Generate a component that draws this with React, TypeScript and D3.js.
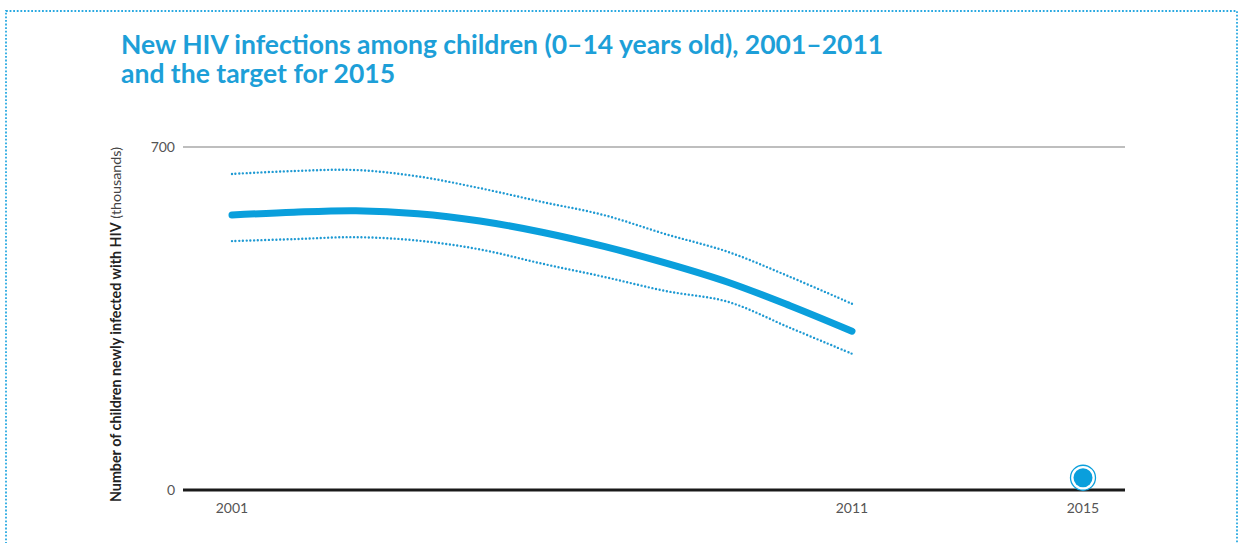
import React from "react";
import * as d3 from "d3";

const years = [2001, 2002, 2003, 2004, 2005, 2006, 2007, 2008, 2009, 2010, 2011];
const estimate = [561, 567, 570, 564, 549, 526, 497, 463, 424, 376, 324];
const upperBound = [645, 651, 653, 640, 616, 588, 561, 522, 486, 435, 380];
const lowerBound = [508, 512, 516, 509, 491, 462, 435, 406, 384, 331, 278];
const targetYear = 2015;
const targetValue = 25;
const yTicks = [0, 700];
const xTickLabels = [2001, 2011, 2015];

const BLUE = "#0a9fdc";
const DOT_BLUE = "#1f9ad3";

export default function App() {
  const W = 1239;
  const H = 543;
  const x = d3.scaleLinear().domain([2001, 2011, 2015]).range([232, 852, 1083]);
  const y = d3.scaleLinear().domain([0, 700]).range([490, 147]);
  const line = d3
    .line<number>()
    .x((_, i) => x(years[i]))
    .y((d) => y(d))
    .curve(d3.curveCatmullRom.alpha(0.5));

  return (
    <svg
      width={W}
      height={H}
      style={{ position: "absolute", left: 0, top: 0, background: "#fff" }}
      fontFamily="Lato, 'Open Sans', sans-serif"
    >
      <rect
        x={6}
        y={11}
        width={1231}
        height={560}
        fill="none"
        stroke="#29a9e1"
        strokeWidth={1.8}
        strokeDasharray="1.8 1.8"
      />
      <text fill="#1d9fd8" fontSize={26.5} fontWeight={700} fontFamily="Lato, sans-serif">
        <tspan x={121} y={54}>New HIV infections among children (0–14 years old), 2001–2011</tspan>
        <tspan x={121} y={83}>and the target for 2015</tspan>
      </text>

      <line x1={183} x2={1125} y1={y(700)} y2={y(700)} stroke="#a8a8a8" strokeWidth={1.5} />

      {yTicks.map((t) => (
        <text key={t} x={175} y={y(t) + 5} textAnchor="end" fontSize={14} fill="#555">
          {t}
        </text>
      ))}

      {xTickLabels.map((t) => (
        <text key={t} x={x(t)} y={513} textAnchor="middle" fontSize={14} fill="#555">
          {t}
        </text>
      ))}

      <text
        transform={`translate(121, ${(y(0) + y(700)) / 2 + 6}) rotate(-90)`}
        textAnchor="middle"
        fontSize={14.3}
        fill="#222"
      >
        <tspan fontWeight={700}>Number of children newly infected with HIV</tspan>
        <tspan fontWeight={400} fill="#444"> (thousands)</tspan>
      </text>

      <path d={line(upperBound) || ""} fill="none" stroke={DOT_BLUE} strokeWidth={2.4} strokeLinecap="round" strokeDasharray="0 3.7" />
      <path d={line(lowerBound) || ""} fill="none" stroke={DOT_BLUE} strokeWidth={2.4} strokeLinecap="round" strokeDasharray="0 3.7" />
      <path d={line(estimate) || ""} fill="none" stroke={BLUE} strokeWidth={7} strokeLinecap="round" />

      <line x1={183} x2={1125} y1={y(0)} y2={y(0)} stroke="#1a1a1a" strokeWidth={3} />

      <circle cx={x(targetYear)} cy={y(targetValue)} r={12.5} fill="#fff" stroke={BLUE} strokeWidth={1.3} />
      <circle cx={x(targetYear)} cy={y(targetValue)} r={9.5} fill={BLUE} />
    </svg>
  );
}
